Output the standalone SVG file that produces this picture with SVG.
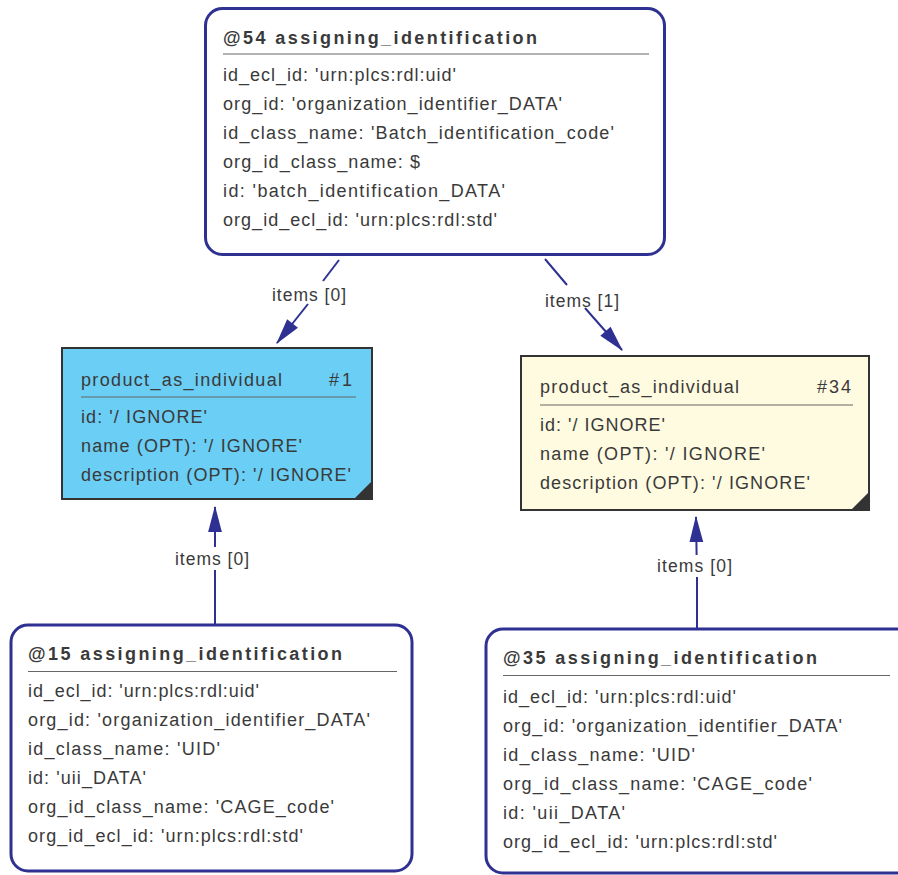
<svg xmlns="http://www.w3.org/2000/svg" width="898" height="875" viewBox="0 0 898 875">
<style>
text{font-family:"Liberation Sans",Arial,sans-serif;fill:#3a3a3a;font-size:18px}
.t{font-weight:bold}
.lbl{font-size:17.5px}
.rb{fill:#fff;stroke:#2e3192;stroke-width:3}
.pb{stroke:#333;stroke-width:2}
.sep{stroke:#666;stroke-width:1.2}
.c{stroke:#2e3192;stroke-width:2;fill:none}
.corner{fill:#333}
</style>
<defs>
<marker id="ah" markerUnits="userSpaceOnUse" markerWidth="30" markerHeight="30" refX="0" refY="0" orient="auto" viewBox="-22 -8 24 16" overflow="visible">
<path d="M1,0 L-20,-5.5 L-20,5.5 Z" fill="#2e3192"/>
</marker>
</defs>
<g id="connectors">
<line class="c" x1="339" y1="260" x2="323" y2="281"/>
<line class="c" x1="308" y1="304" x2="277" y2="343" marker-end="url(#ah)"/>
<text class="lbl" x="272" y="301" textLength="74" lengthAdjust="spacing">items [0]</text>
<line class="c" x1="545" y1="259" x2="567" y2="285"/>
<line class="c" x1="585" y1="308" x2="622" y2="350" marker-end="url(#ah)"/>
<text class="lbl" x="545" y="307" textLength="74" lengthAdjust="spacing">items [1]</text>
<line class="c" x1="215" y1="625" x2="215" y2="570"/>
<line class="c" x1="215" y1="547" x2="215" y2="507" marker-end="url(#ah)"/>
<text class="lbl" x="175" y="565" textLength="74" lengthAdjust="spacing">items [0]</text>
<line class="c" x1="697" y1="629" x2="697" y2="577"/>
<line class="c" x1="696.6" y1="555" x2="696" y2="517" marker-end="url(#ah)"/>
<text class="lbl" x="657" y="572" textLength="75" lengthAdjust="spacing">items [0]</text>
</g>
<g id="n54">
<rect class="rb" x="205.5" y="8.5" width="459" height="246" rx="17"/>
<text class="t" x="223" y="44" textLength="314" lengthAdjust="spacing">@54 assigning_identification</text>
<line class="sep" x1="223" y1="54" x2="649" y2="54"/>
<text x="223" y="81" textLength="233" lengthAdjust="spacing">id_ecl_id: 'urn:plcs:rdl:uid'</text>
<text x="223" y="110" textLength="339" lengthAdjust="spacing">org_id: 'organization_identifier_DATA'</text>
<text x="223" y="139" textLength="391" lengthAdjust="spacing">id_class_name: 'Batch_identification_code'</text>
<text x="223" y="168" textLength="197" lengthAdjust="spacing">org_id_class_name: $</text>
<text x="223" y="197" textLength="282" lengthAdjust="spacing">id: 'batch_identification_DATA'</text>
<text x="223" y="226" textLength="274" lengthAdjust="spacing">org_id_ecl_id: 'urn:plcs:rdl:std'</text>
</g>
<g id="n1">
<rect class="pb" x="62" y="348" width="310" height="151" fill="#6acef5"/>
<path class="corner" d="M372,481 L372,499 L354,499 Z"/>
<text x="81" y="386" textLength="201" lengthAdjust="spacing">product_as_individual</text>
<text x="352" y="386" text-anchor="end" textLength="23" lengthAdjust="spacing">#1</text>
<line class="sep" x1="81" y1="397" x2="356" y2="397"/>
<text x="81" y="423" textLength="126" lengthAdjust="spacing">id: '/ IGNORE'</text>
<text x="81" y="452" textLength="221" lengthAdjust="spacing">name (OPT): '/ IGNORE'</text>
<text x="81" y="481" textLength="270" lengthAdjust="spacing">description (OPT): '/ IGNORE'</text>
</g>
<g id="n34">
<rect class="pb" x="521" y="356" width="348" height="154" fill="#fffbe0"/>
<path class="corner" d="M869,492 L869,510 L851,510 Z"/>
<text x="540" y="393" textLength="199" lengthAdjust="spacing">product_as_individual</text>
<text x="851" y="393" text-anchor="end" textLength="34" lengthAdjust="spacing">#34</text>
<line class="sep" x1="540" y1="405" x2="853" y2="405"/>
<text x="540" y="431" textLength="125" lengthAdjust="spacing">id: '/ IGNORE'</text>
<text x="540" y="460" textLength="225" lengthAdjust="spacing">name (OPT): '/ IGNORE'</text>
<text x="540" y="489" textLength="270" lengthAdjust="spacing">description (OPT): '/ IGNORE'</text>
</g>
<g id="n15">
<rect class="rb" x="11" y="625" width="401" height="246" rx="17"/>
<text class="t" x="28" y="660" textLength="314" lengthAdjust="spacing">@15 assigning_identification</text>
<line class="sep" x1="28" y1="671.5" x2="397" y2="671.5"/>
<text x="28" y="697" textLength="231" lengthAdjust="spacing">id_ecl_id: 'urn:plcs:rdl:uid'</text>
<text x="28" y="726" textLength="342" lengthAdjust="spacing">org_id: 'organization_identifier_DATA'</text>
<text x="28" y="755" textLength="192" lengthAdjust="spacing">id_class_name: 'UID'</text>
<text x="28" y="784" textLength="118" lengthAdjust="spacing">id: 'uii_DATA'</text>
<text x="28" y="813" textLength="306" lengthAdjust="spacing">org_id_class_name: 'CAGE_code'</text>
<text x="28" y="842" textLength="275" lengthAdjust="spacing">org_id_ecl_id: 'urn:plcs:rdl:std'</text>
</g>
<g id="n35">
<rect class="rb" x="486" y="629" width="430" height="244" rx="17"/>
<text class="t" x="503" y="664" textLength="314" lengthAdjust="spacing">@35 assigning_identification</text>
<line class="sep" x1="503" y1="675.5" x2="890" y2="675.5"/>
<text x="503" y="703" textLength="233" lengthAdjust="spacing">id_ecl_id: 'urn:plcs:rdl:uid'</text>
<text x="503" y="732" textLength="339" lengthAdjust="spacing">org_id: 'organization_identifier_DATA'</text>
<text x="503" y="761" textLength="192" lengthAdjust="spacing">id_class_name: 'UID'</text>
<text x="503" y="790" textLength="309" lengthAdjust="spacing">org_id_class_name: 'CAGE_code'</text>
<text x="503" y="819" textLength="122" lengthAdjust="spacing">id: 'uii_DATA'</text>
<text x="503" y="848" textLength="274" lengthAdjust="spacing">org_id_ecl_id: 'urn:plcs:rdl:std'</text>
</g>
</svg>
